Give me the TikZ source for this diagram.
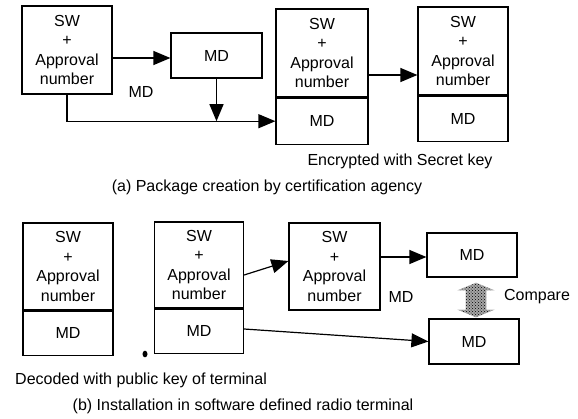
\documentclass[tikz,border=0pt]{standalone}
\usepackage{fontspec}
\setmainfont{Liberation Sans}
\usetikzlibrary{arrows.meta,calc,patterns}
\begin{document}
\begin{tikzpicture}[x=1pt,y=-1pt,
  every node/.style={font=\fontsize{16}{19.5}\selectfont, inner sep=0pt},
  blk/.style={draw, line width=1.2pt, align=center},
  arr/.style={line width=1.2pt, -{Triangle[length=17pt,width=14pt]}},
  lbl/.style={}]
\useasboundingbox (0,0) rectangle (578,418);
% (a)
\node[blk, minimum width=90pt, minimum height=88pt] (A1) at (67,50) {SW\\+\\Approval\\number};
\node[blk, minimum width=91pt, minimum height=45pt] (A2) at (216.5,55.5) {MD};
\node[blk, minimum width=92pt, minimum height=88pt] (A3t) at (322,53) {SW\\+\\Approval\\number};
\node[blk, minimum width=92pt, minimum height=46pt, anchor=north] (A3b) at (A3t.south) {MD};
\node[blk, minimum width=90pt, minimum height=88pt] (A4t) at (463,51) {SW\\+\\Approval\\number};
\node[blk, minimum width=90pt, minimum height=45pt, anchor=north] (A4b) at (A4t.south) {MD};
\node[lbl] (mda) at (141,92) {MD};
\node[lbl] (enc) at (400,161) {Encrypted with Secret key};
\node[lbl] (capa) at (267,187) {(a) Package creation by certification agency};
\draw[arr] (A1.east |- 0,58) -- (A2.west |- 0,58);
\draw[arr] (A2.south) -- (A2.south |- A3b.west);
\draw[arr] (A1.south) |- (A3b.west);
\draw[arr] (A3t.east |- 0,75) -- (A4t.west |- 0,75);
% (b)
\node[blk, minimum width=90pt, minimum height=87pt] (B1t) at (68,266.5) {SW\\+\\Approval\\number};
\node[blk, minimum width=90pt, minimum height=44pt, anchor=north] (B1b) at (B1t.south) {MD};
\node[blk, minimum width=89pt, minimum height=86pt] (B2t) at (199,265) {SW\\+\\Approval\\number};
\node[blk, minimum width=89pt, minimum height=44pt, anchor=north] (B2b) at (B2t.south) {MD};
\node[blk, minimum width=91pt, minimum height=87pt] (B3) at (334.5,266.5) {SW\\+\\Approval\\number};
\node[blk, minimum width=90pt, minimum height=44pt] (B4) at (472,255) {MD};
\node[blk, minimum width=90pt, minimum height=45pt] (B5) at (474,341.5) {MD};
\node[lbl] (mdb) at (401,297) {MD};
\node[lbl] (cmp) at (537,297) {Compare};
\node[lbl, anchor=west] (dec) at (15,380) {Decoded with public key of terminal};
\node[lbl] (capb) at (243,406) {(b) Installation in software defined radio terminal};
\draw[arr] (B2t.east |- 0,275) -- (B3.west |- 0,261);
\draw[arr] (B3.east |- 0,257) -- (B4.west |- 0,257);
\draw[arr] (B2b.east |- 0,329) -- (B5.west);
\coordinate (dc) at (476,300);
\path[fill=gray!70, draw=gray!60, line width=0.6pt, postaction={pattern=crosshatch dots, pattern color=black}]
  ($(dc)+(0,-17)$) -- ($(dc)+(17,-10)$) -- ($(dc)+(10,-10)$) -- ($(dc)+(10,10)$) --
  ($(dc)+(17,10)$) -- ($(dc)+(0,17)$) -- ($(dc)+(-17,10)$) -- ($(dc)+(-10,10)$) --
  ($(dc)+(-10,-10)$) -- ($(dc)+(-17,-10)$) -- cycle;
\fill (145,354) ellipse (2.5pt and 3.3pt);
\end{tikzpicture}
\end{document}
